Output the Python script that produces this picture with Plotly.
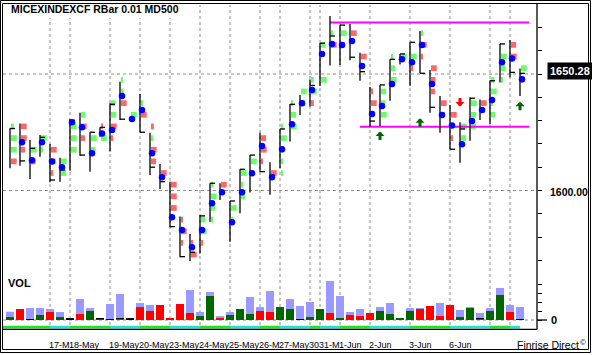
import plotly.graph_objects as go

W, H = 592, 355
def fx(px): return px / W
def fy(py): return 1 - py / H

# ---------------- data ----------------
bar_idx = list(range(1, 53))
high = [1626.7,1628.8,1621.7,1623.8,1620.0,1614.1,1630.7,1633.4,1625.0,1627.1,
        1637.4,1646.7,1631.5,1641.4,1624.8,1611.4,1603.8,1588.8,1581.3,1589.5,
        1603.1,1603.1,1595.5,1609.1,1615.2,1624.8,1612.1,1626.5,1637.1,1641.0,
        1647.6,1663.3,1674.9,1671.0,1671.5,1659.1,1644.4,1645.3,1656.3,1658.6,
        1663.6,1668.5,1651.7,1640.6,1636.7,1629.3,1640.0,1639.1,1647.2,1662.9,
        1664.6,1652.4]
low = [1609.5,1610.6,1604.9,1614.5,1603.5,1603.8,1608.5,1614.9,1608.1,1623.1,
       1616.7,1630.3,1629.8,1625.0,1606.7,1600.6,1584.2,1571.3,1569.7,1573.0,
       1586.6,1595.9,1578.0,1590.2,1599.1,1607.9,1598.2,1609.7,1621.0,1632.4,
       1636.0,1644.8,1653.6,1653.9,1655.9,1647.1,1627.5,1627.7,1638.5,1654.1,
       1645.0,1650.3,1633.4,1624.8,1617.7,1611.9,1621.4,1630.3,1628.5,1646.3,
       1648.6,1640.6]
close = [1626.6,1612.7,1618.1,1622.8,1604.5,1608.8,1630.1,1615.2,1625.0,1627.1,
         1637.0,1630.6,1630.5,1625.0,1610.0,1603.8,1584.5,1571.6,1573.5,1589.1,
         1603.1,1599.1,1595.5,1609.1,1615.2,1608.1,1606.5,1626.4,1637.0,1637.4,
         1645.1,1663.2,1666.3,1671.0,1657.2,1651.0,1629.8,1645.3,1656.3,1658.6,
         1663.6,1650.3,1635.7,1633.1,1617.7,1626.4,1639.6,1633.9,1647.1,1662.9,
         1650.7,1650.28]
mid = [None,1620.7,1613.0,1620.7,1612.5,1610.0,1629.3,1627.1,1616.0,1624.5,
       1626.0,1640.6,1630.7,1634.5,1616.0,1605.7,1588.5,1583.0,1575.6,1583.0,
       1594.5,1599.2,1586.4,1599.2,1607.4,1619.1,1605.7,1617.7,1628.4,1637.4,
       1643.1,1658.6,1662.9,1662.4,1664.2,1653.4,1632.8,1636.3,1645.7,1656.3,
       1655.0,1662.4,1645.7,1632.4,1627.9,1619.8,1629.8,1634.5,1638.8,1655.0,
       1656.7,1647.7]

# price-bucket blocks: bar, bucket (5-pt), side (u/d), relative amount
blk_bar = [1,1,1,1, 2,2,2, 3,3, 4,4, 5,5,5, 6,6, 7,7,7, 8,8,8, 9,9, 10,10,
           11,11,11,11, 12,12,12, 13, 14,14, 15,15,15,15, 16, 17,17,17, 18,18,18,
           19,19, 20,20,20, 21,21,21,21, 22, 23,23, 24,24,24, 25,25, 26,26,26, 27,
           28,28,28,28,28, 29,29,29, 30,30, 31,31,31, 32,32, 33,33, 34,34, 35, 36,
           37,37, 38,38,38, 39,39,39, 40, 41,41, 42,42,42, 43,43,43, 44, 45,45,
           46,46, 47,47,47, 48, 49,49,49,49, 50,50,50, 51,51, 52,52]
blk_level = [1625,1620,1615,1610, 1625,1620,1615, 1615,1610, 1620,1615, 1615,1610,1605,
             1610,1605, 1625,1620,1615, 1630,1625,1620, 1620,1615, 1625,1620,
             1635,1630,1625,1620, 1645,1640,1635, 1630, 1635,1630, 1625,1620,1615,1610,
             1605, 1600,1595,1590, 1585,1580,1575, 1575,1570, 1585,1580,1575,
             1600,1595,1590,1585, 1600, 1590,1585, 1605,1600,1595, 1610,1605,
             1620,1615,1610, 1605, 1625,1620,1615,1610,1605, 1635,1630,1625,
             1640,1635, 1645,1640,1635, 1660,1645, 1665,1660, 1665,1660, 1665, 1655,
             1640,1635, 1640,1635,1630, 1655,1650,1645, 1655, 1655,1650,
             1665,1660,1655, 1650,1645,1640, 1635, 1630,1620, 1625,1620,
             1635,1630,1625, 1635, 1645,1640,1635,1630, 1655,1650,1645, 1660,1655,
             1650,1645]
blk_side = list("uuud" "ddd" "ud" "uu" "ddd" "uu" "uuu" "udd" "uu" "du"
                "uudd" "uud" "u" "ud" "dudd" "d" "ddd" "ddd" "dd" "uud"
                "uuuu" "d" "uu" "uuu" "uu" "ddd" "d" "uuuuu" "uuu" "uu" "uud"
                "uu" "ud" "ud" "d" "d" "dd" "uuu" "uuu" "u" "ud" "udd" "ddd"
                "d" "dd" "uu" "uuu" "d" "uuuu" "uuu" "dd" "ud")
blk_amt = [0.5,1,1,1, 1,1,0.7, 1,0.8, 1,0.4, 1,0.8,0.4, 1,0.9, 1,1,1, 0.7,1,0.7,
           1,0.8, 0.3,1, 0.7,0.9,1,0.2, 0.2,0.5,1, 1, 0.2,1, 0.5,0.2,1,0.9,
           1, 1,1,1, 0.3,1,0.3, 0.2,1, 0.7,1,0.2, 0.3,1,0.7,0.2, 1, 1,0.4,
           1,0.4,0.7, 1,0.2, 0.9,1,0.3, 1, 0.3,1,0.5,0.3,0.2, 0.2,0.9,1,
           1,0.7, 0.5,1,0.5, 0.7,1, 0.3,1, 1,0.6, 1, 1, 0.3,1, 0.9,0.7,1,
           0.2,0.7,1, 1, 1,0.4, 0.2,1,0.3, 1,0.8,0.7, 1, 1,0.2, 1,0.9,
           1,0.9,0.9, 1, 0.6,1,0.2,0.7, 1,0.8,0.3, 0.9,1, 1,0.4]

vol_total = [9.2,0,13.3,13.3,12.2,8.9,0,23.3,13.3,0,
             17.8,28.9,0,18.9,16.7,0,0,0,33.3,8.9,
             31.1,4.4,8.9,0,25.6,14.4,32.2,0,23.3,15.6,
             20.0,0,43.3,26.7,8.9,12.2,0,14.4,18.9,0,
             13.3,13.3,0,18.9,0,11.1,14.4,7.8,13.3,35.6,
             16.7,14.4]
vol_up = [3.3,0,0,5.6,0,3.3,0,0,10,0.8,
          0,0,0,0,0,0,0,0,0,4.4,
          26.7,0,5.6,12.2,6.7,0,0,14.4,12.2,0,
          3.3,12.2,0,2.2,0,0,0,10,6.7,2.2,
          10,0,0,0,0,3.3,13.3,0,10,27.8,
          0,0]
vol_dn = [0,12.2,0,0,8.9,0,0,6.7,0,0,
          0,0.6,0,14.4,10,16.7,2.2,17.8,7.8,0,
          0,2.2,0,0,0,10,8.9,0,0,0,
          0,0,7.8,0,5.6,4.4,7.8,0,0,0,
          0,12.2,15.6,4.4,16.7,0,0,1.1,0,0,
          8.9,0]
vol_flat = [0,0,0.6,0,0,0,1.7,0,0,2.2,
            0.6,1.4,2.0,0,0,0,0,0,0,0,
            0,0,0,0,0,0,0,0,0,0.6,
            0,0,0,0,0,0,0,0,0,0,
            0,0,0,0,0,0,0,2.2,0,0,
            0,0.6]

day_start = [1,5,7,11,14,17,20,23,26,28,31,32,34,37,41,45,49,51]
day_name = ["16-May","17-May","18-May","19-May","20-May","23-May","24-May","25-May",
            "26-May","27-May","30-May","31-May","1-Jun","2-Jun","3-Jun","6-Jun",
            "7-Jun","8-Jun"]

res_level, res_from = 1672.1, 33
sup_level, sup_from = 1627.4, 36
buy_bar, buy_price = [38, 42, 52], [1625.3, 1631.0, 1638.1]
sell_bar, sell_price = [46], [1636.0]
price_ticks = [1570, 1580, 1590, 1600, 1610, 1620, 1630, 1640, 1650, 1660, 1670]
vol_ticks = [0, 10, 20, 30, 40]

# ---------------- geometry ----------------
X0, X1 = 3, 537            # plot area px
P_TOP, P_BOT = 5, 263      # price panel px
V_TOP, V_BOT = 279, 325    # volume panel px
PX_PER_PT = 2.33
Y1650 = 74
p_hi = 1650 + (Y1650 - P_TOP) / PX_PER_PT
p_lo = 1650 - (P_BOT - Y1650) / PX_PER_PT
V_BASE = 320
V_PX = 0.9
v_lo = -(V_BOT - V_BASE) / V_PX
v_hi = (V_BASE - V_TOP) / V_PX
x_lo, x_hi = X0 / 10, X1 / 10

FONT = "Liberation Sans"
fig = go.Figure()

# price-bucket blocks
SQ_H = 2.45
fig.add_trace(go.Bar(
    x=blk_bar, y=[SQ_H] * len(blk_bar),
    base=[lv + 2.5 - SQ_H / 2 for lv in blk_level],
    width=[0.57 * a for a in blk_amt], offset=[0.1] * len(blk_bar),
    marker=dict(color=["#66ff66" if s == "u" else "#ff6666" for s in blk_side],
                line=dict(width=0)),
    xaxis="x", yaxis="y", hoverinfo="skip", showlegend=False))

# support / resistance
last = bar_idx[-1] + 0.9
fig.add_trace(go.Scatter(x=[res_from, last, None, sup_from, last],
                         y=[res_level, res_level, None, sup_level, sup_level],
                         mode="lines", line=dict(color="#ff00ff", width=2),
                         xaxis="x", yaxis="y", hoverinfo="skip", showlegend=False))

# HLC bars
bx, by = [], []
for k, h, l, c in zip(bar_idx, high, low, close):
    bx += [k, k, None, k, k + 0.5, None]
    by += [h, l, None, c, c, None]
fig.add_trace(go.Scatter(x=bx, y=by, mode="lines", line=dict(color="black", width=1.3),
                         xaxis="x", yaxis="y", hoverinfo="skip", showlegend=False))

# mid dots
fig.add_trace(go.Scatter(x=[k + 0.2 for k in bar_idx], y=mid, mode="markers",
                         marker=dict(color="#0000ff", size=6.5, line=dict(width=0)),
                         xaxis="x", yaxis="y", hoverinfo="skip", showlegend=False))

# volume
for vals, col in [(vol_total, "#9999ff"), (vol_flat, "#000000"),
                  (vol_up, "#006600"), (vol_dn, "#ff0000")]:
    fig.add_trace(go.Bar(x=bar_idx, y=vals, width=0.8, marker=dict(color=col, line=dict(width=0)),
                         xaxis="x2", yaxis="y2", hoverinfo="skip", showlegend=False))

shapes = []
GRID = dict(color="#8c8c8c", width=1, dash="3px,3px")
for s in day_start[1:]:
    shapes.append(dict(type="line", xref="x", yref="paper", x0=s, x1=s,
                       y0=fy(V_BOT), y1=fy(P_TOP), line=GRID, layer="below"))
for lv in [1650, 1600]:
    shapes.append(dict(type="line", xref="paper", yref="y", x0=fx(X0), x1=fx(X1),
                       y0=lv, y1=lv, line=GRID, layer="below"))
shapes.append(dict(type="line", xref="paper", yref="y2", x0=fx(X0), x1=fx(X1),
                   y0=0, y1=0, line=GRID, layer="below"))
# title background
shapes.append(dict(type="rect", xref="paper", yref="paper", x0=fx(4), x1=fx(181),
                   y0=fy(18), y1=fy(4), fillcolor="white", line=dict(width=0), layer="below"))
# session strip
for i, s in enumerate(day_start):
    xa = x_lo if i == 0 else s
    xb = day_start[i + 1] if i + 1 < len(day_start) else bar_idx[-1]
    shapes.append(dict(type="rect", xref="x", yref="paper", x0=xa, x1=xb,
                       y0=fy(328.6), y1=fy(325.7),
                       fillcolor="#22e322" if i % 2 == 0 else "#22e3d0",
                       line=dict(width=0)))
# axis lines and frame
shapes.append(dict(type="line", xref="paper", yref="paper", x0=fx(X1), x1=fx(X1),
                   y0=fy(329.5), y1=fy(3.5), line=dict(color="black", width=1.3)))
shapes.append(dict(type="line", xref="paper", yref="paper", x0=fx(2.5), x1=fx(X1),
                   y0=fy(329.3), y1=fy(329.3), line=dict(color="black", width=1.3)))
shapes.append(dict(type="line", xref="paper", yref="y2", x0=fx(X1), x1=fx(547),
                   y0=0, y1=0, line=dict(color="black", width=1.3)))
shapes.append(dict(type="rect", xref="paper", yref="paper", x0=fx(0.5), x1=fx(590.5),
                   y0=fy(352.5), y1=fy(0.5), line=dict(color="black", width=1)))
shapes.append(dict(type="rect", xref="paper", yref="paper", x0=fx(2.5), x1=fx(588.5),
                   y0=fy(349.5), y1=fy(3.5), line=dict(color="black", width=1)))

ann = []
ann.append(dict(text="<b>MICEXINDEXCF RBar 0.01 MD500</b>", xref="paper", yref="paper",
                x=fx(9), y=fy(9.5), xanchor="left", yanchor="middle", showarrow=False,
                font=dict(family=FONT, size=10.5, color="black")))
ann.append(dict(text="<b>VOL</b>", xref="paper", yref="paper", x=fx(5.5), y=fy(282.5),
                xanchor="left", yanchor="middle", showarrow=False,
                font=dict(family=FONT, size=11, color="black")))
ann.append(dict(text="<b>%.2f</b>" % close[-1], xref="paper", yref="y", x=fx(546.5),
                y=close[-1], yshift=2, xanchor="left", yanchor="middle", showarrow=False,
                bgcolor="black", borderpad=2,
                font=dict(family=FONT, size=11, color="white")))
ann.append(dict(text="<b>1600.00</b>", xref="paper", yref="y", x=fx(547.5), y=1600,
                yshift=-1, xanchor="left", yanchor="middle", showarrow=False,
                font=dict(family=FONT, size=10.5, color="black")))
ann.append(dict(text="<b>0</b>", xref="paper", yref="y2", x=fx(549), y=0,
                xanchor="left", yanchor="middle", showarrow=False,
                font=dict(family=FONT, size=11, color="black")))
# date labels (each clipped where the next one starts)
for i in range(1, 16):
    s = day_start[i]
    nxt = day_start[i + 1]
    txt = day_name[i][:2 * (nxt - s)]
    ann.append(dict(text=txt, xref="x", yref="paper", x=s - 0.2, y=fy(345),
                    xanchor="left", yanchor="middle", showarrow=False, borderpad=0,
                    font=dict(family=FONT, size=9, color="black")))
ann.append(dict(text="Finrise Direct", xref="paper", yref="paper", x=fx(514.5), y=fy(345),
                xanchor="left", yanchor="middle", showarrow=False,
                font=dict(family=FONT, size=10.5, color="black")))
ann.append(dict(text="©", xref="paper", yref="paper", x=fx(577.5), y=fy(342),
                xanchor="left", yanchor="middle", showarrow=False,
                font=dict(family=FONT, size=8, color="black")))
# signal arrows
for k, p in zip(buy_bar, buy_price):
    ann.append(dict(x=k, y=p, xref="x", yref="y", ax=0, ay=10, text="", showarrow=True,
                    arrowhead=1, arrowsize=0.5, arrowwidth=3, arrowcolor="#006600"))
for k, p in zip(sell_bar, sell_price):
    ann.append(dict(x=k, y=p, xref="x", yref="y", ax=0, ay=-10, text="", showarrow=True,
                    arrowhead=1, arrowsize=0.5, arrowwidth=3, arrowcolor="#ff0000"))

fig.update_layout(
    width=W, height=H, autosize=False,
    margin=dict(l=0, r=0, t=0, b=0, pad=0),
    paper_bgcolor="white", plot_bgcolor="rgba(0,0,0,0)",
    barmode="overlay", showlegend=False,
    xaxis=dict(domain=[fx(X0), fx(X1)], range=[x_lo, x_hi], visible=False,
               anchor="y", fixedrange=True),
    xaxis2=dict(domain=[fx(X0), fx(X1)], range=[x_lo, x_hi], visible=False,
                anchor="y2", fixedrange=True),
    yaxis=dict(domain=[fy(P_BOT), fy(P_TOP)], range=[p_lo, p_hi], side="right",
               anchor="x", ticks="outside", ticklen=4, tickwidth=1, tickcolor="black",
               tickmode="array", tickvals=price_ticks, showticklabels=False,
               showgrid=False, zeroline=False, showline=False, fixedrange=True),
    yaxis2=dict(domain=[fy(V_BOT), fy(V_TOP)], range=[v_lo, v_hi], side="right",
                anchor="x2", ticks="outside", ticklen=4, tickwidth=1, tickcolor="black",
                tickmode="array", tickvals=vol_ticks, showticklabels=False,
                showgrid=False, zeroline=False, showline=False, fixedrange=True),
    shapes=shapes, annotations=ann,
)
fig.write_html("out.html", config={"displayModeBar": False})
